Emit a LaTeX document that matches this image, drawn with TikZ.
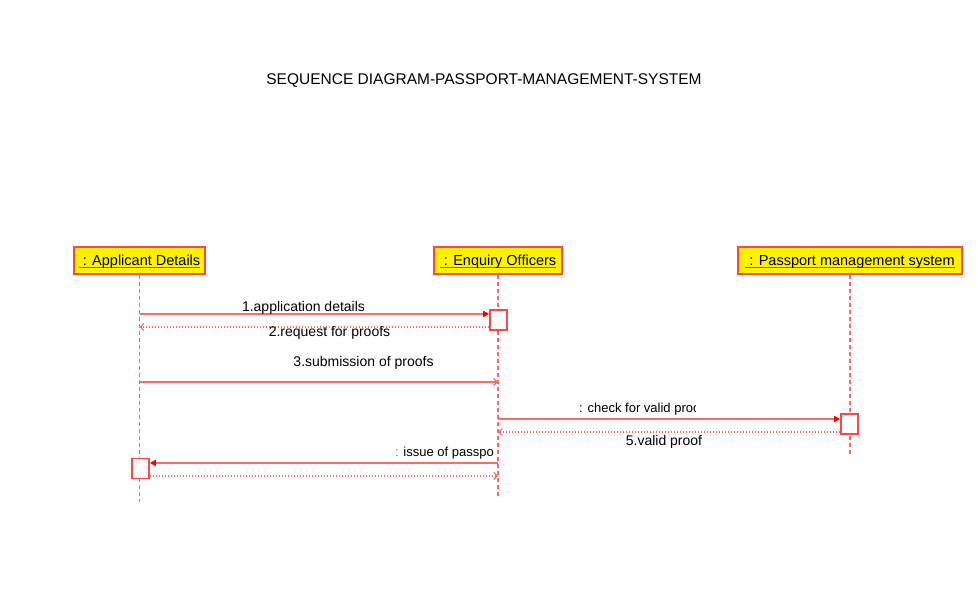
\documentclass[tikz,border=0pt]{standalone}
\usepackage{fontspec}
\setmainfont{Liberation Sans}
\usetikzlibrary{arrows.meta}
\definecolor{boxred}{RGB}{255,70,70}
\definecolor{linered}{RGB}{255,105,105}
\definecolor{headred}{RGB}{240,0,0}
\definecolor{ulc}{RGB}{110,110,0}
\definecolor{colonblue}{RGB}{60,150,255}
\newcommand\ulbox[1]{\setbox0\hbox{#1}\rlap{\color{ulc}\rule[-2.6pt]{\wd0}{1.5pt}}\box0}
\begin{document}
\begin{tikzpicture}[x=1pt,y=-1pt,
 head/.style={draw=boxred,line width=1.6pt,fill=yellow,minimum height=27pt,inner sep=0pt,text height=11pt,text depth=1pt,font=\fontsize{14.5}{16}\selectfont},
 life/.style={draw=linered,line width=1.8pt,dash pattern=on 4pt off 3pt},
 act/.style={draw=boxred,line width=1.6pt,fill=white,minimum width=17pt,minimum height=20pt,inner sep=0pt},
 msg/.style={draw=linered,line width=1.7pt},
 call/.style={msg,-{Triangle[length=6pt,width=6pt,fill=headred,color=headred]}},
 async/.style={msg,-{Straight Barb[length=3.5pt,width=7pt,line width=1.1pt]}},
 reply/.style={msg,line width=1.4pt,dash pattern=on 1.3pt off 1.7pt,-{Straight Barb[length=3.5pt,width=7pt,line width=1.1pt]}},
 lbl/.style={font=\fontsize{14}{16}\selectfont,inner sep=0pt},
 slbl/.style={font=\fontsize{13}{15}\selectfont,inner sep=0pt},
]
\useasboundingbox[fill=white] (0,0) rectangle (978,596);

\node[font=\fontsize{15.5}{18}\selectfont] (title) at (484,81) {SEQUENCE DIAGRAM-PASSPORT-MANAGEMENT-SYSTEM};

\node[head,minimum width=131pt] (ad) at (139.5,260.5) {\ulbox{\ : Applicant Details}};
\node[head,minimum width=128pt] (eo) at (498,260.5) {\ulbox{\ : Enquiry Officers}};
\node[head,minimum width=224pt] (pm) at (850,260.5) {\ulbox{\ : Passport management system}};

\coordinate (adend) at (ad.south |- 0,502);
\coordinate (eoend) at (eo.south |- 0,498);
\coordinate (pmend) at (pm.south |- 0,455);
\draw[life] (ad.south) -- (adend);
\draw[life] (eo.south) -- (eoend);
\draw[life] (pm.south) -- (pmend);

\node[act] (a1) at (498.5,320) {};
\node[act] (a2) at (849.5,424) {};
\node[act] (a3) at (140.5,468.5) {};

\draw[call] (ad.south |- 0,314) -- (a1.west |- 0,314);
\draw[reply] (a1.west |- 0,327) -- (ad.south |- 0,327);
\draw[async] (ad.south |- 0,382) -- (eo.south |- 0,382);
\draw[call] (eo.south |- 0,419) -- (a2.west |- 0,419);
\draw[reply] (a2.west |- 0,432) -- (eo.south |- 0,432);
\draw[call] (eo.south |- 0,463) -- (a3.east |- 0,463);
\draw[reply] (a3.east |- 0,476) -- (eo.south |- 0,476);

\node[lbl] (l1) at (303.5,308) {1.application details};
\node[lbl] (l2) at (329.5,333) {2.request for proofs};
\node[lbl] (l3) at (363.5,363) {3.submission of proofs};
\begin{scope}
\clip (575,396) rectangle (695,418);
\node[slbl,anchor=west] (l4) at (579,409) {: check for valid proof};
\end{scope}
\node[lbl] (l5) at (664,442) {5.valid proof};
\node[slbl,anchor=east] (l6) at (494,453) {{\color{colonblue}:} issue of passpo};
\end{tikzpicture}
\end{document}
